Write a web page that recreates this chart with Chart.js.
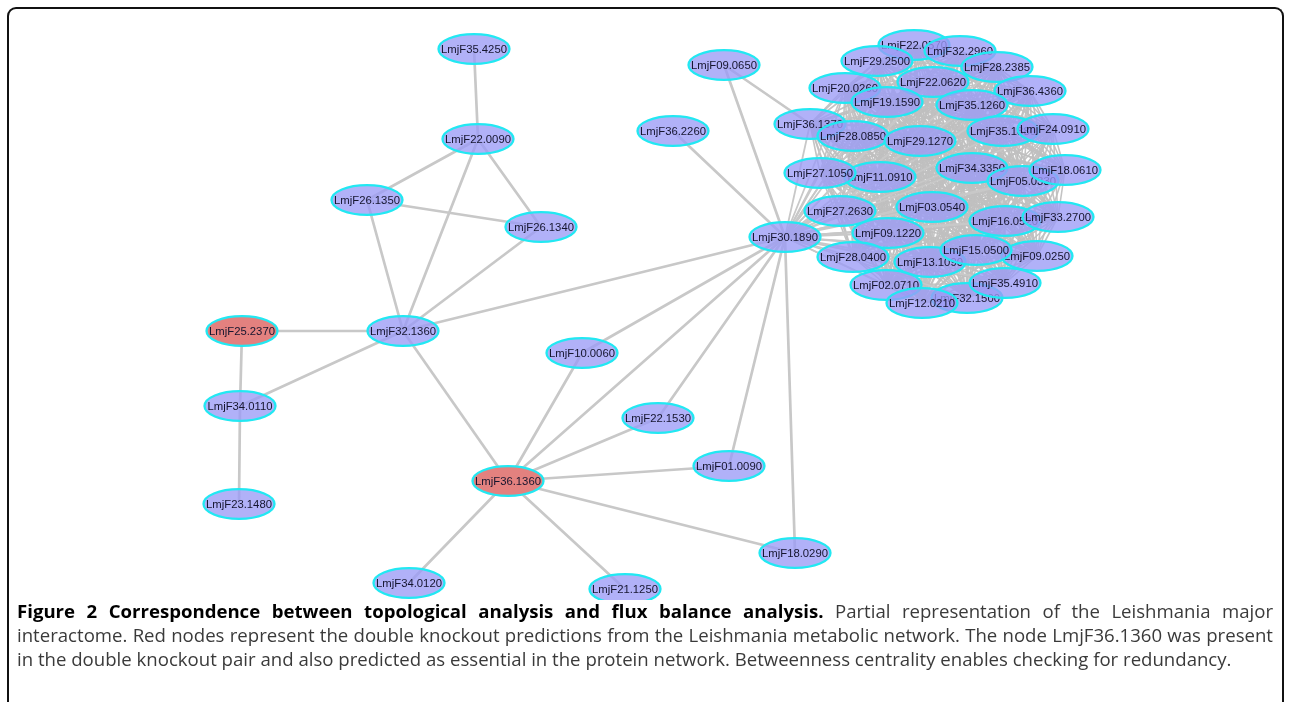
<!DOCTYPE html>
<html>
<head>
<meta charset="utf-8">
<script src="https://cdn.jsdelivr.net/npm/chart.js@4/dist/chart.umd.min.js"></script>
<style>
  html, body { margin:0; padding:0; background:#fff; width:1289px; height:702px; overflow:hidden; }
  #frame { position:absolute; left:7px; top:7px; width:1277px; height:760px; border:2px solid #111; border-bottom:none; border-radius:9px 9px 0 0; box-sizing:border-box; }
  #wrap { position:absolute; left:0; top:0; width:1289px; height:600px; }
  #cap { position:absolute; left:17px; top:599px; width:1256px; font-family:"Open Sans", sans-serif; font-size:18.6px; line-height:24px; color:#3a3a3a; }
  #cap div { white-space:nowrap; }
  #cap span { display:inline-block; }
  #cap b { color:#000; }
</style>
</head>
<body>
<div id="frame"></div>
<div id="wrap"><canvas id="c" width="1289" height="600"></canvas></div>
<div id="cap">
  <div class="j"><span><b>Figure 2 Correspondence between topological analysis and flux balance analysis.</b> Partial representation of the Leishmania major</span></div>
  <div class="j"><span>interactome. Red nodes represent the double knockout predictions from the Leishmania metabolic network. The node LmjF36.1360 was present</span></div>
  <div class="l"><span>in the double knockout pair and also predicted as essential in the protein network. Betweenness centrality enables checking for redundancy.</span></div>
</div>
<script>
// ---- DATA ----
const nodeNames = [
  "LmjF35.4250","LmjF22.0090","LmjF26.1350","LmjF26.1340","LmjF25.2370","LmjF32.1360",
  "LmjF34.0110","LmjF23.1480","LmjF10.0060","LmjF36.1360","LmjF34.0120","LmjF21.1250",
  "LmjF22.1530","LmjF01.0090","LmjF18.0290","LmjF36.2260","LmjF09.0650","LmjF30.1890",
  // cluster
  "LmjF36.1370","LmjF28.0850","LmjF22.0570","LmjF32.2960","LmjF29.2500","LmjF28.2385",
  "LmjF22.0620","LmjF20.0260","LmjF19.1590","LmjF36.4360","LmjF35.1260","LmjF29.1270",
  "LmjF35.1880","LmjF24.0910","LmjF11.0910","LmjF27.1050","LmjF34.3350","LmjF05.0330",
  "LmjF18.0610","LmjF03.0540","LmjF27.2630","LmjF16.0520","LmjF33.2700","LmjF09.1220",
  "LmjF28.0400","LmjF13.1090","LmjF09.0250","LmjF15.0500","LmjF02.0710","LmjF32.1500",
  "LmjF35.4910","LmjF12.0210"
];
const nodeX = [
  474,478,367,541,242,403,
  240,239,582,508,409,625,
  658,729,795,673,724,785,
  810,853,914,960,877,997,
  933,845,887,1030,972,920,
  1003,1053,880,820,972,1023,
  1065,932,840,1005,1058,888,
  853,930,1037,976,886,967,
  1005,922
];
const nodeY = [
  49,139,200,227,331,331,
  406,504,353,481,583,589,
  418,466,553,131,65,237,
  124,136,45,51,61,67,
  82,88,102,91,105,141,
  131,129,177,173,168,181,
  170,207,211,221,217,233,
  257,262,256,250,285,298,
  283,303
];
const redNodes = ["LmjF25.2370","LmjF36.1360"];

const edgeFrom = [
  "LmjF35.4250","LmjF22.0090","LmjF22.0090","LmjF22.0090","LmjF26.1350","LmjF26.1350",
  "LmjF26.1340","LmjF32.1360","LmjF32.1360","LmjF32.1360","LmjF32.1360","LmjF25.2370",
  "LmjF34.0110","LmjF36.1360","LmjF36.1360","LmjF36.1360","LmjF36.1360","LmjF36.1360",
  "LmjF36.1360","LmjF36.1360","LmjF10.0060","LmjF22.1530","LmjF01.0090","LmjF18.0290",
  "LmjF36.2260","LmjF09.0650","LmjF09.0650"
];
const edgeTo = [
  "LmjF22.0090","LmjF26.1350","LmjF26.1340","LmjF32.1360","LmjF26.1340","LmjF32.1360",
  "LmjF32.1360","LmjF25.2370","LmjF34.0110","LmjF30.1890","LmjF36.1360","LmjF34.0110",
  "LmjF23.1480","LmjF10.0060","LmjF30.1890","LmjF22.1530","LmjF01.0090","LmjF18.0290",
  "LmjF34.0120","LmjF21.1250","LmjF30.1890","LmjF30.1890","LmjF30.1890","LmjF30.1890",
  "LmjF30.1890","LmjF30.1890","LmjF36.1370"
];
// densely inter-connected module (every member linked to every other and to the hub)
const clusterHub = "LmjF30.1890";
const clusterNodes = nodeNames.slice(18);

// ---- caption justification (lines 1-2 fill the full width) ----
function justifyCaption(){
  document.querySelectorAll('#cap .j span').forEach(s=>{
    s.style.wordSpacing = '0px';
    const w = s.getBoundingClientRect().width;
    const gaps = (s.textContent.trim().match(/ +/g) || []).length;
    s.style.wordSpacing = ((1256 - w) / gaps) + 'px';
  });
}
justifyCaption();
if (document.fonts && document.fonts.ready) document.fonts.ready.then(justifyCaption);

// ---- CHART ----
const idx = Object.fromEntries(nodeNames.map((n,i)=>[n,i]));
const points = nodeNames.map((n,i)=>({x:nodeX[i], y:nodeY[i], name:n}));

const graphPlugin = {
  id:'graph',
  beforeDatasetsDraw(chart){
    const {ctx, scales:{x,y}} = chart;
    const px = n => x.getPixelForValue(nodeX[idx[n]]);
    const py = n => y.getPixelForValue(nodeY[idx[n]]);
    ctx.save();
    ctx.lineCap = 'round';
    ctx.strokeStyle = 'rgba(192,192,192,0.95)';
    ctx.lineWidth = 1.6;
    for (let i=0;i<clusterNodes.length;i++){
      for (let j=i+1;j<clusterNodes.length;j++){
        ctx.beginPath();
        ctx.moveTo(px(clusterNodes[i]), py(clusterNodes[i]));
        ctx.lineTo(px(clusterNodes[j]), py(clusterNodes[j]));
        ctx.stroke();
      }
    }
    ctx.strokeStyle = '#c8c8c8';
    ctx.lineWidth = 1.8;
    for (const n of clusterNodes){
      ctx.beginPath();
      ctx.moveTo(px(clusterHub), py(clusterHub));
      ctx.lineTo(px(n), py(n));
      ctx.stroke();
    }
    ctx.strokeStyle = '#c8c8c8';
    ctx.lineWidth = 2.7;
    for (let k=0;k<edgeFrom.length;k++){
      ctx.beginPath();
      ctx.moveTo(px(edgeFrom[k]), py(edgeFrom[k]));
      ctx.lineTo(px(edgeTo[k]), py(edgeTo[k]));
      ctx.stroke();
    }
    ctx.restore();
  },
  afterDatasetsDraw(chart){
    const {ctx} = chart;
    const meta = chart.getDatasetMeta(0);
    ctx.save();
    meta.data.forEach((el,i)=>{
      const n = nodeNames[i];
      const red = redNodes.includes(n);
      ctx.beginPath();
      ctx.ellipse(el.x, el.y, 35.5, 14.8, 0, 0, Math.PI*2);
      ctx.fillStyle = red ? '#e3817f' : 'rgba(155,155,246,0.78)';
      ctx.fill();
      ctx.lineWidth = 2.3;
      ctx.strokeStyle = '#22e8f2';
      ctx.stroke();
      ctx.fillStyle = '#15152e';
      ctx.font = '11.3px "Liberation Sans", Arial, sans-serif';
      ctx.textAlign = 'center';
      ctx.textBaseline = 'middle';
      ctx.fillText(n, el.x, el.y+0.5);
    });
    ctx.restore();
  }
};

new Chart(document.getElementById('c'), {
  type:'scatter',
  data:{ datasets:[{ data:points, pointRadius:0, pointHoverRadius:0, showLine:false }] },
  options:{
    responsive:false,
    animation:false,
    events:[],
    layout:{ padding:0 },
    plugins:{ legend:{display:false}, tooltip:{enabled:false} },
    scales:{
      x:{ type:'linear', min:0, max:1289, display:false },
      y:{ type:'linear', min:0, max:600, reverse:true, display:false }
    }
  },
  plugins:[graphPlugin]
});
</script>
</body>
</html>
